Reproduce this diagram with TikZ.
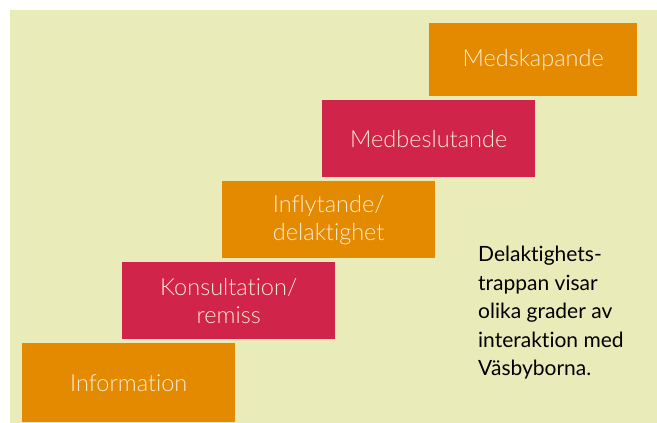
\documentclass[tikz,border=0pt]{standalone}
\usepackage{fontspec}
\setmainfont{Lato}[Ligatures=NoCommon]
\newfontfamily\lightfont{Lato}[UprightFont=* Light, Ligatures=NoCommon]
\definecolor{bg}{HTML}{E9EBB9}
\definecolor{orng}{HTML}{E48A00}
\definecolor{rd}{HTML}{D1244A}
\definecolor{cream}{HTML}{FCEBD2}
\tikzset{
  stepbox/.style={minimum width=213pt, minimum height=77pt, inner sep=0pt, anchor=north west, text=cream, font=\lightfont\fontsize{23.5}{28}\selectfont, align=center},
  ob/.style={stepbox, fill=orng},
  rb/.style={stepbox, fill=rd},
}
\begin{document}
\begin{tikzpicture}[x=1pt,y=-1pt]
\useasboundingbox (0,0) rectangle (657,423);
\fill[white] (0,0) rectangle (657,423);
\fill[bg] (10,10) rectangle (657,423);
\node[ob, minimum height=73pt, minimum width=208pt] (s5) at (429,23) {Medskapande};
\node[rb] (s4) at (322,100) {Medbeslutande};
\node[ob] (s3) at (222,181) {Inflytande/\\delaktighet};
\node[rb] (s2) at (122,262) {Konsultation/\\remiss};
\node[ob, minimum height=79pt] (s1) at (22,343) {Information};
\node[anchor=north west, align=left, font=\fontsize{21}{28.5}\selectfont, inner sep=0pt] (note) at (478,246) {Delaktighets-\\trappan visar\\olika grader av\\interaktion med\\Väsbyborna.};
\end{tikzpicture}
\end{document}
